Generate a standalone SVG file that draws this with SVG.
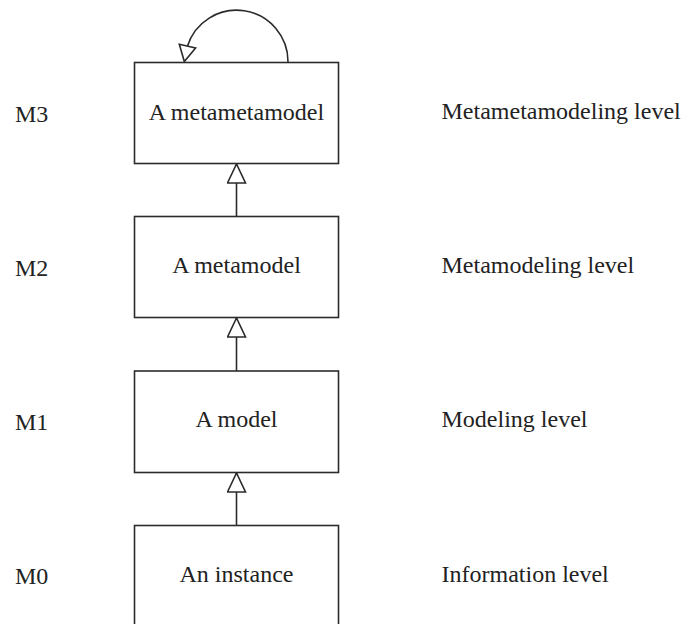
<svg xmlns="http://www.w3.org/2000/svg" width="684" height="624" viewBox="0 0 684 624">
  <style>
    .box { fill: #ffffff; stroke: #2b2b2b; stroke-width: 1.6; }
    .edge { fill: none; stroke: #2b2b2b; stroke-width: 1.6; }
    .head { fill: #ffffff; stroke: #2b2b2b; stroke-width: 1.6; stroke-linejoin: miter; }
    text { font-family: "Liberation Serif", "Times New Roman", serif; font-size: 24px; fill: #222222; }
    .mid { text-anchor: middle; }
  </style>
  <defs>
    <!-- hollow triangle used for the "instance of" relation -->
    <marker id="hollow" viewBox="0 0 20 20" refX="20" refY="10" markerWidth="20" markerHeight="20" markerUnits="userSpaceOnUse" orient="auto">
      <path class="head" d="M1,1 L20,10 L1,19 Z"/>
    </marker>
  </defs>
  <rect width="684" height="624" fill="#ffffff"/>

  <!-- level labels, left -->
  <g id="level-labels">
    <text x="15" y="122">M3</text>
    <text x="15" y="276">M2</text>
    <text x="15" y="430">M1</text>
    <text x="15" y="584">M0</text>
  </g>

  <!-- level descriptions, right -->
  <g id="level-names">
    <text x="441.5" y="119">Metametamodeling level</text>
    <text x="441.5" y="273">Metamodeling level</text>
    <text x="441.5" y="427">Modeling level</text>
    <text x="441.5" y="582">Information level</text>
  </g>

  <g id="connectors">
    <line class="edge" x1="236.5" y1="216" x2="236.5" y2="164" marker-end="url(#hollow)"/>
    <line class="edge" x1="236.5" y1="371" x2="236.5" y2="318" marker-end="url(#hollow)"/>
    <line class="edge" x1="236.5" y1="525" x2="236.5" y2="473" marker-end="url(#hollow)"/>
    <!-- self reference of the metametamodel -->
    <path class="edge" d="M288,62 A51.5,51.5 0 0 0 187.3,46.5"/>
    <polygon class="head" points="179.3,44.3 195.6,48 184.3,61.5"/>
  </g>

  <g id="node-m3">
    <rect class="box" x="134.5" y="62.5" width="204" height="101"/>
    <text class="mid" x="236.5" y="120">A metametamodel</text>
  </g>
  <g id="node-m2">
    <rect class="box" x="134.5" y="216.5" width="204" height="101"/>
    <text class="mid" x="236.5" y="273">A metamodel</text>
  </g>
  <g id="node-m1">
    <rect class="box" x="134.5" y="371" width="204" height="101.5"/>
    <text class="mid" x="236.5" y="427">A model</text>
  </g>
  <g id="node-m0">
    <rect class="box" x="134.5" y="525.5" width="204" height="110"/>
    <text class="mid" x="236.5" y="582">An instance</text>
  </g>
</svg>
